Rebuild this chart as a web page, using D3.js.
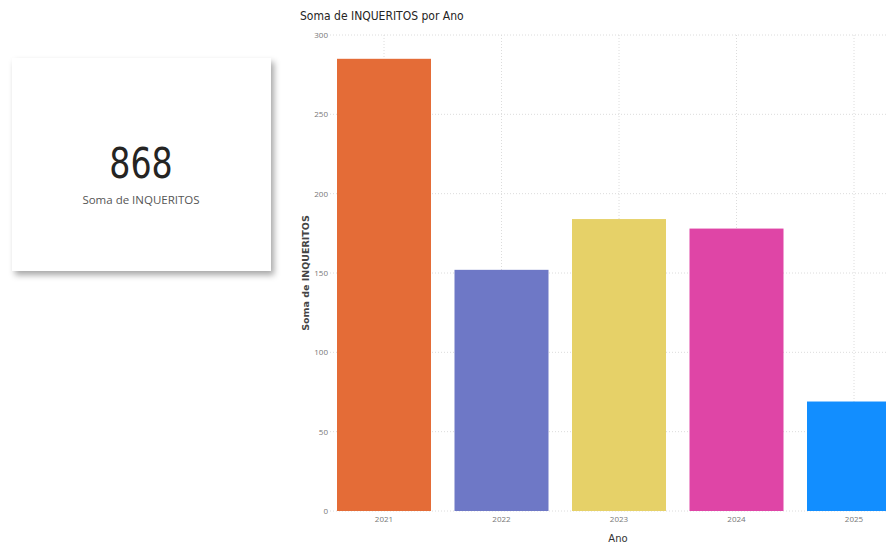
<!DOCTYPE html>
<html><head><meta charset="utf-8">
<script src="https://cdn.jsdelivr.net/npm/d3@7"></script>
<style>
html,body{margin:0;padding:0;background:#fff;overflow:hidden;}
svg{display:block;}
</style></head>
<body>
<svg id="c" width="886" height="545"></svg>
<script>
const categories = ["2021","2022","2023","2024","2025"];
const values = [285, 152, 184, 178, 69];
const colors = ["#E46C37","#6E78C6","#E6D168","#DF45A6","#128EFF"];
const yTicks = [0,50,100,150,200,250,300];
const cardValue = "868";
const cardLabel = "Soma de INQUERITOS";
const title = "Soma de INQUERITOS por Ano";
const yTitle = "Soma de INQUERITOS";
const xTitle = "Ano";

const svg = d3.select("#c");
const defs = svg.append("defs");
const f = defs.append("filter").attr("id","sh").attr("x","-10%").attr("y","-10%").attr("width","125%").attr("height","125%");
f.append("feDropShadow").attr("dx",3).attr("dy",4).attr("stdDeviation",3).attr("flood-color","#000").attr("flood-opacity",0.35);

// Card
svg.append("rect").attr("x",12).attr("y",58).attr("width",259).attr("height",213)
  .attr("fill","#fff").attr("filter","url(#sh)");
svg.append("text").attr("transform","translate(141,178) scale(0.86,1)").attr("text-anchor","middle")
  .attr("font-family","'DejaVu Sans Condensed','DejaVu Sans',sans-serif").attr("font-size",43)
  .attr("fill","#252423").text(cardValue);
svg.append("text").attr("x",141).attr("y",204).attr("text-anchor","middle")
  .attr("font-family","'Open Sans',sans-serif").attr("font-size",11.5)
  .attr("fill","#555").text(cardLabel);

// Chart
const x = d3.scaleBand().domain(categories).range([325.25, 912.75]).paddingInner(0.2).paddingOuter(0.1);
const y = d3.scaleLinear().domain([0,300]).range([511,35]);

const g = svg.append("g");
g.selectAll(".hg").data(yTicks).join("line")
  .attr("x1",330).attr("x2",886).attr("y1",d=>y(d)).attr("y2",d=>y(d))
  .attr("stroke","#dcdcdc").attr("stroke-width",1).attr("stroke-dasharray","1,2");
g.selectAll(".vg").data(categories).join("line")
  .attr("x1",d=>x(d)+x.bandwidth()/2).attr("x2",d=>x(d)+x.bandwidth()/2)
  .attr("y1",y(300)).attr("y2",y(0))
  .attr("stroke","#dcdcdc").attr("stroke-width",1).attr("stroke-dasharray","1,2");

g.selectAll(".bar").data(categories).join("rect")
  .attr("x",d=>x(d)).attr("width",x.bandwidth())
  .attr("y",(d,i)=>y(values[i])).attr("height",(d,i)=>y(0)-y(values[i]))
  .attr("fill",(d,i)=>colors[i]);

const yAxis = d3.axisLeft(y).tickValues(yTicks).tickSize(0).tickPadding(0);
const ya = svg.append("g").attr("transform","translate(328,0)").call(yAxis);
ya.select(".domain").remove();
ya.selectAll("text").attr("font-family","'Open Sans',sans-serif").attr("font-size",8).attr("fill","#777");

const xAxis = d3.axisBottom(x).tickSize(0).tickPadding(0);
const xa = svg.append("g").attr("transform","translate(0,516)").call(xAxis);
xa.select(".domain").remove();
xa.selectAll("text").attr("font-family","'Open Sans',sans-serif").attr("font-size",8).attr("fill","#777");

svg.append("text").attr("x",300).attr("y",20)
  .attr("font-family","'DejaVu Sans Condensed','DejaVu Sans',sans-serif").attr("font-size",12)
  .attr("fill","#252423").text(title);
svg.append("text").attr("transform","translate(309,273) rotate(-90)").attr("text-anchor","middle")
  .attr("font-family","'DejaVu Sans',sans-serif").attr("font-size",9.5).attr("font-weight",600)
  .attr("fill","#444").text(yTitle);
svg.append("text").attr("x",618).attr("y",542).attr("text-anchor","middle")
  .attr("font-family","'DejaVu Sans',sans-serif").attr("font-size",10)
  .attr("fill","#333").text(xTitle);
</script>
</body></html>
